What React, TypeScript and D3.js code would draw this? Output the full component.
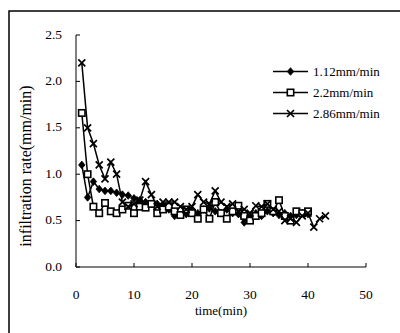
import React from "react";
import * as d3 from "d3";

const times1 = d3.range(1, 41);
const series112 = [1.10,0.75,0.92,0.84,0.82,0.82,0.80,0.78,0.77,0.74,0.72,0.70,0.68,0.68,0.66,0.62,0.55,0.56,0.57,0.60,0.58,0.62,0.63,0.60,0.58,0.62,0.58,0.57,0.48,0.55,0.58,0.55,0.60,0.58,0.56,0.58,0.55,0.56,0.58,0.57];
const series22 = [1.66,1.00,0.65,0.58,0.69,0.60,0.58,0.62,0.66,0.58,0.65,0.64,0.68,0.58,0.62,0.65,0.60,0.56,0.62,0.58,0.52,0.62,0.52,0.70,0.58,0.52,0.60,0.66,0.55,0.50,0.55,0.58,0.68,0.60,0.72,0.55,0.50,0.60,0.58,0.60];
const times3 = d3.range(1, 44);
const series286 = [2.20,1.50,1.33,1.10,0.95,1.13,1.00,0.70,0.65,0.68,0.72,0.92,0.78,0.65,0.70,0.70,0.70,0.65,0.62,0.65,0.78,0.70,0.68,0.82,0.70,0.65,0.68,0.60,0.62,0.58,0.66,0.65,0.68,0.62,0.60,0.50,0.52,0.48,0.55,0.58,0.43,0.52,0.55];
const xTicks = [0, 10, 20, 30, 40, 50];
const yTicks = [0, 0.5, 1.0, 1.5, 2.0, 2.5];
const legendLabels = ["1.12mm/min", "2.2mm/min", "2.86mm/min"];

const FONT = "Liberation Serif, Times New Roman, serif";

function Marker({ type, x, y }: { type: string; x: number; y: number }) {
  if (type === "diamond") {
    const s = 3.8;
    return <path d={`M${x},${y - s}L${x + s * 0.85},${y}L${x},${y + s}L${x - s * 0.85},${y}Z`} fill="#000" stroke="#000" strokeWidth={0.8} />;
  }
  if (type === "square") {
    const s = 3.2;
    return <rect x={x - s} y={y - s} width={2 * s} height={2 * s} fill="#fff" stroke="#000" strokeWidth={1.6} />;
  }
  const s = 3.5;
  return <path d={`M${x - s},${y - s}L${x + s},${y + s}M${x - s},${y + s}L${x + s},${y - s}`} stroke="#000" strokeWidth={1.7} fill="none" />;
}

export default function App() {
  const W = 400, H = 333;
  const x = d3.scaleLinear().domain([0, 50]).range([76, 366]);
  const y = d3.scaleLinear().domain([0, 2.5]).range([267, 35]);
  const line = d3.line<[number, number]>().x(d => x(d[0])).y(d => y(d[1]));
  const data = [
    { type: "diamond", pts: times1.map((t, i) => [t, series112[i]] as [number, number]) },
    { type: "square", pts: times1.map((t, i) => [t, series22[i]] as [number, number]) },
    { type: "x", pts: times3.map((t, i) => [t, series286[i]] as [number, number]) },
  ];
  return (
    <svg width={W} height={H} style={{ position: "absolute", left: 0, top: 0, background: "#fff" }}>
      <rect x={9} y={11} width={W + 10} height={H + 10} fill="#fff" stroke="#000" strokeWidth={1.5} />
      <line x1={x(0)} x2={x(0)} y1={y(2.5)} y2={y(0)} stroke="#000" strokeWidth={1} />
      <line x1={x(0)} x2={x(50)} y1={y(0)} y2={y(0)} stroke="#000" strokeWidth={1} />
      {yTicks.map(t => (
        <g key={"y" + t}>
          <line x1={x(0)} x2={x(0) + 4} y1={y(t)} y2={y(t)} stroke="#000" />
          <text x={62} y={y(t) + 3.5} textAnchor="end" fontFamily={FONT} fontSize={13.5}>{t.toFixed(1)}</text>
        </g>
      ))}
      {xTicks.map(t => (
        <g key={"x" + t}>
          <line x1={x(t)} x2={x(t)} y1={y(0)} y2={y(0) - 4} stroke="#000" />
          <text x={x(t)} y={299} textAnchor="middle" fontFamily={FONT} fontSize={13.5}>{t}</text>
        </g>
      ))}
      <text x={221} y={315} textAnchor="middle" fontFamily={FONT} fontSize={13}>time(min)</text>
      <text transform="translate(31,166) rotate(-90)" textAnchor="middle" fontFamily={FONT} fontSize={16}>infiltration rate(mm/min)</text>
      {data.map((s, si) => (
        <g key={si}>
          <path d={line(s.pts) || ""} fill="none" stroke="#000" strokeWidth={1.5} />
          {s.pts.map((p, i) => <Marker key={i} type={s.type} x={x(p[0])} y={y(p[1])} />)}
        </g>
      ))}
      {legendLabels.map((lab, i) => {
        const ly = 71.5 + i * 21;
        return (
          <g key={lab}>
            <line x1={273} x2={308} y1={ly} y2={ly} stroke="#000" strokeWidth={1.5} />
            <Marker type={["diamond", "square", "x"][i]} x={290.5} y={ly} />
            <text x={313} y={ly + 4} fontFamily={FONT} fontSize={13}>{lab}</text>
          </g>
        );
      })}
    </svg>
  );
}
